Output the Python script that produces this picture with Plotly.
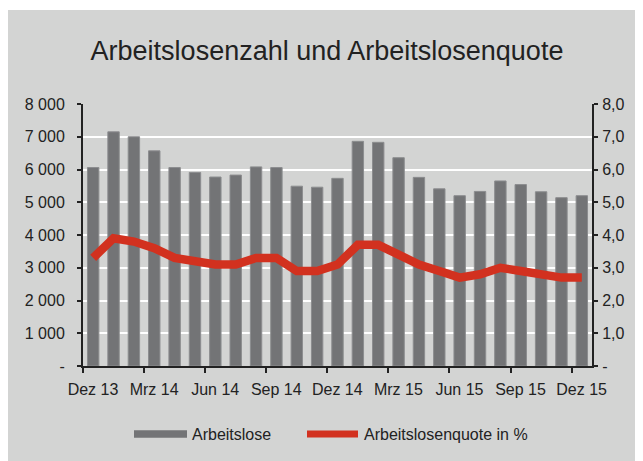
import plotly.graph_objects as go

months = ["Dez 13", "Jan 14", "Feb 14", "Mrz 14", "Apr 14", "Mai 14", "Jun 14", "Jul 14",
          "Aug 14", "Sep 14", "Okt 14", "Nov 14", "Dez 14", "Jan 15", "Feb 15", "Mrz 15",
          "Apr 15", "Mai 15", "Jun 15", "Jul 15", "Aug 15", "Sep 15", "Okt 15", "Nov 15", "Dez 15"]
arbeitslose = [6060, 7150, 7000, 6570, 6060, 5910, 5770, 5830, 6080, 6060, 5490, 5460, 5730,
               6860, 6830, 6360, 5760, 5410, 5200, 5330, 5650, 5540, 5320, 5140, 5200]
quote = [3.3, 3.9, 3.8, 3.6, 3.3, 3.2, 3.1, 3.1, 3.3, 3.3, 2.9, 2.9, 3.1,
         3.7, 3.7, 3.4, 3.1, 2.9, 2.7, 2.8, 3.0, 2.9, 2.8, 2.7, 2.7]
x_tick_labels = ["Dez 13", "Mrz 14", "Jun 14", "Sep 14", "Dez 14", "Mrz 15", "Jun 15", "Sep 15", "Dez 15"]
y_left_labels = ["-", "1 000", "2 000", "3 000", "4 000", "5 000", "6 000", "7 000", "8 000"]
y_right_labels = ["-", "1,0", "2,0", "3,0", "4,0", "5,0", "6,0", "7,0", "8,0"]
legend_names = ["Arbeitslose", "Arbeitslosenquote in %"]

BG = "#d3d4d3"
TXT = "#222222"
BAR = "#737476"
RED = "#d2311f"
FONT = "Liberation Sans, Arial, sans-serif"

W, H = 643, 461
L, R, T, B = 75, 59, 96, 103
PW, PH = W - L - R, H - T - B


def px(fx):
    return (fx - L) / PW


def py(fy):
    return (H - B - fy) / PH


xs = list(range(len(months)))
n = len(months)

fig = go.Figure()
fig.add_trace(go.Bar(
    x=xs, y=arbeitslose, name=legend_names[0], width=0.56,
    marker=dict(color=BAR, line=dict(color="#8c8d8f", width=1)),
    yaxis="y", hovertext=months,
))
fig.add_trace(go.Scatter(
    x=xs, y=quote, name=legend_names[1], mode="lines",
    line=dict(color=RED, width=8.5), yaxis="y2", hovertext=months,
))

ly = py(426)
fig.update_layout(
    width=W, height=H,
    paper_bgcolor=BG, plot_bgcolor=BG,
    margin=dict(l=L, r=R, t=T, b=B),
    font=dict(family=FONT, size=16, color=TXT),
    title=dict(text="Arbeitslosenzahl und Arbeitslosenquote", x=319 / W, xanchor="center",
               xref="container", y=1 - 43 / H, yanchor="middle", yref="container",
               font=dict(size=27, color=TXT, family=FONT)),
    showlegend=False,
    xaxis=dict(range=[-0.5, n - 0.5], tickmode="array",
               tickvals=[i - 0.5 for i in range(0, n, 3)], ticktext=x_tick_labels,
               ticklabelshift=10, ticklabelstandoff=3, ticks="outside", ticklen=5,
               tickwidth=2, tickcolor=TXT,
               showline=True, linecolor=TXT, linewidth=2, showgrid=False, zeroline=False,
               fixedrange=True),
    yaxis=dict(range=[0, 8000], tickmode="array", tickvals=[i * 1000 for i in range(9)],
               ticktext=y_left_labels, ticks="outside", ticklen=4, tickwidth=2, tickcolor=TXT,
               ticklabelstandoff=9,
               showline=True, linecolor=TXT, linewidth=2, showgrid=True, gridcolor="white",
               gridwidth=2, zeroline=False),
    yaxis2=dict(range=[0, 8], overlaying="y", side="right", tickmode="array",
                tickvals=list(range(9)), ticktext=y_right_labels, ticks="outside", ticklen=4,
                tickwidth=2, tickcolor=TXT, ticklabelstandoff=1,
                showline=True, linecolor=TXT, linewidth=2,
                showgrid=False, zeroline=False),
    shapes=[
        dict(type="rect", xref="paper", yref="paper", x0=px(0), x1=px(W),
             y0=py(2), y1=py(0), fillcolor="white", line=dict(width=0), layer="above"),
        dict(type="rect", xref="paper", yref="paper", x0=px(126), x1=px(179),
             y0=ly - 3.8 / PH, y1=ly + 3.8 / PH, fillcolor=BAR, line=dict(width=0),
             layer="above"),
        dict(type="line", xref="paper", yref="paper", x0=px(299), x1=px(350),
             y0=ly, y1=ly, line=dict(color=RED, width=7), layer="above"),
    ],
    annotations=[
        dict(text=legend_names[0], xref="paper", yref="paper", x=px(182), y=ly,
             xanchor="left", yanchor="middle", showarrow=False,
             font=dict(size=16, color=TXT, family=FONT)),
        dict(text=legend_names[1], xref="paper", yref="paper", x=px(354), y=ly,
             xanchor="left", yanchor="middle", showarrow=False,
             font=dict(size=16, color=TXT, family=FONT)),
    ],
)

fig.write_html("out.html")
